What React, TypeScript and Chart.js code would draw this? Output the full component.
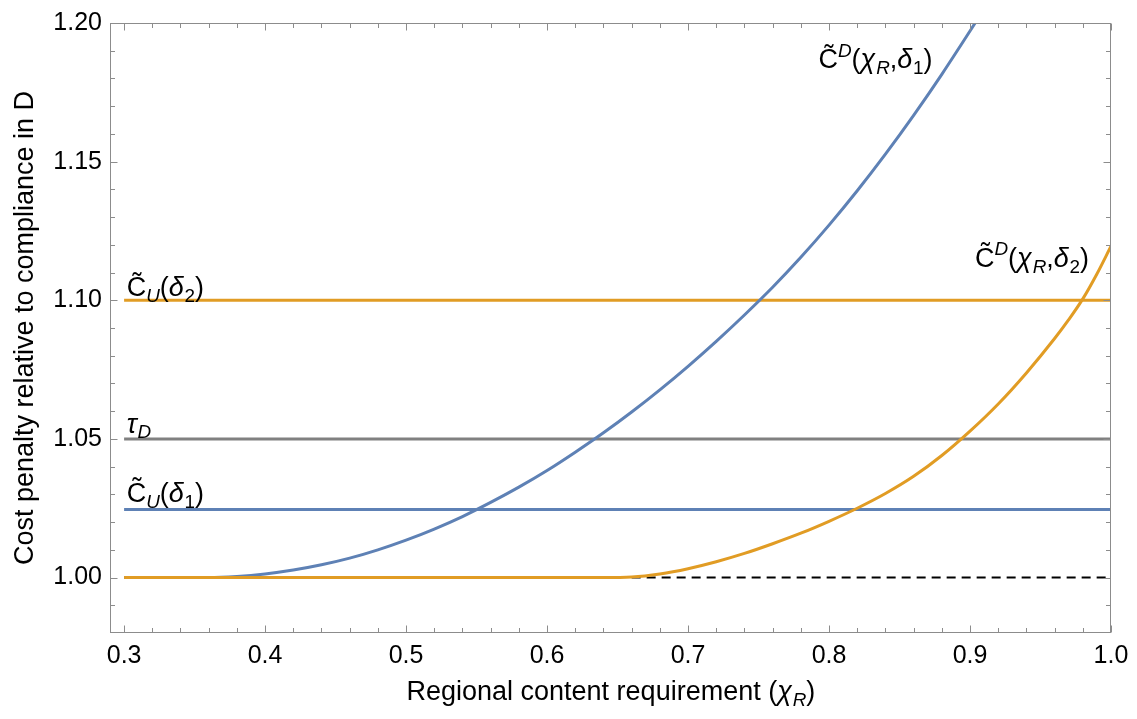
import React, { useEffect, useRef } from 'react';
import { Chart, registerables } from 'chart.js';

Chart.register(...registerables);

const FONT = '"Liberation Sans", Arial, Helvetica, sans-serif';

// Blue curve  C~D(chi_R, delta_1)
const blueX = [0.30, 0.36, 0.38, 0.40, 0.42, 0.44, 0.46, 0.48, 0.50, 0.52, 0.54, 0.56, 0.58, 0.60, 0.62, 0.64, 0.66, 0.68, 0.70, 0.72, 0.74, 0.76, 0.78, 0.80, 0.82, 0.84, 0.86, 0.88, 0.90, 0.92];
const blueY = [1.0000, 1.0000, 1.0004, 1.0013, 1.0027, 1.0046, 1.0070, 1.0100, 1.0135, 1.0175, 1.0220, 1.0271, 1.0326, 1.0386, 1.0452, 1.0522, 1.0597, 1.0677, 1.0762, 1.0852, 1.0947, 1.1047, 1.1155, 1.1271, 1.1395, 1.1527, 1.1667, 1.1815, 1.1971, 1.2131];

// Orange curve  C~D(chi_R, delta_2)
const orangeX = [0.30, 0.64, 0.66, 0.68, 0.70, 0.72, 0.74, 0.76, 0.78, 0.80, 0.82, 0.84, 0.86, 0.88, 0.90, 0.92, 0.94, 0.96, 0.97, 0.98, 0.99, 1.00];
const orangeY = [1.0000, 1.0000, 1.0002, 1.0013, 1.0032, 1.0057, 1.0087, 1.0122, 1.0160, 1.0203, 1.0250, 1.0303, 1.0365, 1.0440, 1.0528, 1.0626, 1.0738, 1.0862, 1.0930, 1.1005, 1.1095, 1.1195];

// Horizontal reference levels
const cuDelta2 = 1.10;
const tauD = 1.05;
const cuDelta1 = 1.0245;
const hLineX = [0.30, 1.00];

// Dashed baseline
const dashX = [0.66, 1.00];
const dashLevel = 1.0;

// Axis ticks
const xMajorTicks = [0.3, 0.4, 0.5, 0.6, 0.7, 0.8, 0.9, 1.0];
const yMajorTicks = [1.0, 1.05, 1.1, 1.15, 1.2];
const xRange = [0.29, 1.0];
const yRange = [0.98, 1.2];

const BLUE = '#5E81B5';
const ORANGE = '#E19C24';
const GRAY = '#808080';

type Run = { t: string; i?: boolean; s?: 'sub' | 'sup' };

const labelCU2: Run[] = [{ t: 'C\u0303' }, { t: 'U', i: true, s: 'sub' }, { t: '(' }, { t: 'δ', i: true }, { t: '2', s: 'sub' }, { t: ')' }];
const labelTau: Run[] = [{ t: 'τ', i: true }, { t: 'D', i: true, s: 'sub' }];
const labelCU1: Run[] = [{ t: 'C\u0303' }, { t: 'U', i: true, s: 'sub' }, { t: '(' }, { t: 'δ', i: true }, { t: '1', s: 'sub' }, { t: ')' }];
const labelCD1: Run[] = [{ t: 'C\u0303' }, { t: 'D', i: true, s: 'sup' }, { t: '(' }, { t: 'χ', i: true }, { t: 'R', i: true, s: 'sub' }, { t: ',' }, { t: 'δ', i: true }, { t: '1', s: 'sub' }, { t: ')' }];
const labelCD2: Run[] = [{ t: 'C\u0303' }, { t: 'D', i: true, s: 'sup' }, { t: '(' }, { t: 'χ', i: true }, { t: 'R', i: true, s: 'sub' }, { t: ',' }, { t: 'δ', i: true }, { t: '2', s: 'sub' }, { t: ')' }];

const xTitle: Run[] = [{ t: 'Regional content requirement (' }, { t: 'χ', i: true }, { t: 'R', i: true, s: 'sub' }, { t: ')' }];
const yTitle: Run[] = [{ t: 'Cost penalty relative to compliance in D' }];

// anchor points (data coordinates) of the curve labels
const annotations: { runs: Run[]; x: number; y: number }[] = [
  { runs: labelCU2, x: 0.3018, y: 1.1015 },
  { runs: labelTau, x: 0.3018, y: 1.0523 },
  { runs: labelCU1, x: 0.3018, y: 1.0274 },
  { runs: labelCD1, x: 0.7925, y: 1.1837 },
  { runs: labelCD2, x: 0.9035, y: 1.1121 },
];

function runFont(r: Run, fs: number) {
  const size = r.s ? fs * 0.7 : fs;
  return `${r.i ? 'italic ' : ''}${size}px ${FONT}`;
}
function measureRuns(ctx: CanvasRenderingContext2D, runs: Run[], fs: number) {
  let w = 0;
  for (const r of runs) {
    ctx.font = runFont(r, fs);
    w += ctx.measureText(r.t).width;
  }
  return w;
}
function drawRuns(ctx: CanvasRenderingContext2D, runs: Run[], x: number, y: number, fs: number) {
  let cx = x;
  ctx.textBaseline = 'alphabetic';
  ctx.textAlign = 'left';
  for (const r of runs) {
    ctx.font = runFont(r, fs);
    const dy = r.s === 'sub' ? fs * 0.22 : r.s === 'sup' ? -fs * 0.42 : 0;
    ctx.fillText(r.t, cx, y + dy);
    cx += ctx.measureText(r.t).width + (r.i && !r.s ? fs * 0.03 : 0);
  }
}

const pts = (xs: number[], ys: number[]) => xs.map((x, i) => ({ x, y: ys[i] }));
const flat = (xs: number[], level: number) => xs.map((x) => ({ x, y: level }));

const decorPlugin = {
  id: 'decor',
  afterDatasetsDraw(chart: any) {
    const { ctx, chartArea: a, scales } = chart;
    const xs = scales.x;
    const ys = scales.y;
    ctx.save();
    // frame
    ctx.strokeStyle = '#8c8c8c';
    ctx.lineWidth = 1;
    const L = Math.round(a.left) + 0.5;
    const R = Math.round(a.right) - 0.5;
    const T = Math.round(a.top) + 0.5;
    const B = Math.round(a.bottom) - 0.5;
    ctx.strokeRect(L, T, R - L, B - T);
    // ticks
    const tick = (len: number, px: number, horizontal: boolean) => {
      ctx.beginPath();
      if (horizontal) {
        ctx.moveTo(Math.round(px) + 0.5, B);
        ctx.lineTo(Math.round(px) + 0.5, B - len);
        ctx.moveTo(Math.round(px) + 0.5, T);
        ctx.lineTo(Math.round(px) + 0.5, T + len);
      } else {
        ctx.moveTo(L, Math.round(px) + 0.5);
        ctx.lineTo(L + len, Math.round(px) + 0.5);
        ctx.moveTo(R, Math.round(px) + 0.5);
        ctx.lineTo(R - len, Math.round(px) + 0.5);
      }
      ctx.stroke();
    };
    for (let k = 0; k <= 35; k++) {
      const v = 0.3 + k * 0.02;
      const major = k % 5 === 0;
      tick(major ? 7 : 4.5, xs.getPixelForValue(v), true);
    }
    for (let k = 1; k <= 21; k++) {
      const v = 0.98 + k * 0.01;
      const major = (k - 2) % 5 === 0;
      tick(major ? 7 : 4.5, ys.getPixelForValue(v), false);
    }
    // curve labels
    ctx.fillStyle = '#000';
    for (const an of annotations) {
      drawRuns(ctx, an.runs, xs.getPixelForValue(an.x), ys.getPixelForValue(an.y), 27);
    }
    // axis titles
    const tfs = 27;
    const wx = measureRuns(ctx, xTitle, tfs);
    drawRuns(ctx, xTitle, (a.left + a.right) / 2 - wx / 2, 700, tfs);
    const wy = measureRuns(ctx, yTitle, tfs);
    ctx.translate(33, (a.top + a.bottom) / 2);
    ctx.rotate(-Math.PI / 2);
    drawRuns(ctx, yTitle, -wy / 2, 0, tfs);
    ctx.restore();
  },
};

export default function App() {
  const ref = useRef<HTMLCanvasElement>(null);
  useEffect(() => {
    document.body.style.margin = '0';
    if (!ref.current) return;
    const lineDs = (label: string, data: any[], color: string, extra: any = {}) => ({
      label,
      data,
      borderColor: color,
      backgroundColor: color,
      borderWidth: 3,
      pointRadius: 0,
      showLine: true,
      fill: false,
      ...extra,
    });
    const chart = new Chart(ref.current, {
      type: 'scatter',
      data: {
        datasets: [
          lineDs('dash', flat(dashX, dashLevel), '#000', { borderWidth: 2, borderDash: [9, 6] }),
          lineDs('cu1', flat(hLineX, cuDelta1), BLUE),
          lineDs('tau', flat(hLineX, tauD), GRAY),
          lineDs('cu2', flat(hLineX, cuDelta2), ORANGE),
          lineDs('blue', pts(blueX, blueY), BLUE, { cubicInterpolationMode: 'monotone' }),
          lineDs('orange', pts(orangeX, orangeY), ORANGE, { cubicInterpolationMode: 'monotone' }),
        ].reverse(),
      },
      options: {
        animation: false,
        responsive: false,
        maintainAspectRatio: false,
        layout: { padding: { left: 0, right: 26, top: 15, bottom: 0 } },
        plugins: { legend: { display: false }, tooltip: { enabled: false } },
        scales: {
          x: {
            type: 'linear',
            min: xRange[0],
            max: xRange[1],
            grid: { display: false, drawTicks: false },
            border: { display: false },
            ticks: {
              color: '#000',
              font: { family: FONT, size: 25 },
              padding: 8,
              maxRotation: 0,
              autoSkip: false,
              callback: (v: any) => Number(v).toFixed(1),
            },
            afterBuildTicks: (s: any) => {
              s.ticks = xMajorTicks.map((value) => ({ value }));
            },
            afterFit: (s: any) => {
              s.height = 86;
            },
          },
          y: {
            type: 'linear',
            min: yRange[0],
            max: yRange[1],
            grid: { display: false, drawTicks: false },
            border: { display: false },
            ticks: {
              color: '#000',
              font: { family: FONT, size: 25 },
              padding: 8,
              autoSkip: false,
              callback: (v: any) => Number(v).toFixed(2),
            },
            afterBuildTicks: (s: any) => {
              s.ticks = yMajorTicks.map((value) => ({ value }));
            },
            afterFit: (s: any) => {
              s.width = 110;
            },
          },
        },
      },
      plugins: [decorPlugin],
    } as any);
    return () => chart.destroy();
  }, []);
  return <canvas ref={ref} width={1137} height={719} style={{ display: 'block' }} />;
}
